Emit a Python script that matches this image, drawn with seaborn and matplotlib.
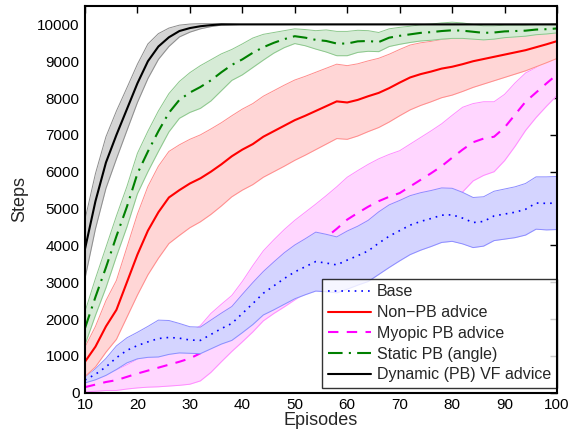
import matplotlib
matplotlib.use('Agg')
import matplotlib.pyplot as plt
import seaborn as sns

episodes = [10, 12, 14, 16, 18, 20, 22, 24, 26, 28,
            30, 32, 34, 36, 38, 40, 42, 44, 46, 48,
            50, 52, 54, 56, 58, 60, 62, 64, 66, 68,
            70, 72, 74, 76, 78, 80, 82, 84, 86, 88,
            90, 92, 94, 96, 98, 100]

base_mean = [345, 500, 700, 950, 1150, 1280, 1380, 1470, 1500, 1480,
             1430, 1420, 1580, 1740, 1880, 2150, 2420, 2700, 2900, 3100,
             3280, 3420, 3560, 3520, 3470, 3600, 3720, 3850, 4060, 4250,
             4400, 4550, 4650, 4730, 4820, 4830, 4740, 4620, 4650, 4800,
             4850, 4900, 4980, 5150, 5140, 5150]
base_err = [80, 150, 230, 320, 340, 360, 420, 500, 460, 400,
            360, 360, 390, 420, 460, 520, 570, 590, 650, 700,
            730, 760, 800, 780, 760, 790, 800, 830, 850, 850,
            820, 800, 780, 760, 740, 720, 700, 680, 670, 670,
            680, 690, 700, 710, 720, 720]

nonpb_mean = [840, 1250, 1800, 2250, 3000, 3750, 4400, 4900, 5300, 5500,
              5680, 5820, 6000, 6200, 6420, 6600, 6750, 6950, 7100, 7250,
              7400, 7520, 7650, 7780, 7910, 7880, 7950, 8050, 8140, 8270,
              8420, 8560, 8650, 8720, 8800, 8850, 8920, 9000, 9060, 9120,
              9180, 9240, 9300, 9380, 9460, 9546]
nonpb_err = [400, 550, 700, 800, 950, 1100, 1200, 1250, 1250, 1230,
             1200, 1180, 1160, 1130, 1100, 1100, 1100, 1100, 1100, 1100,
             1090, 1070, 1050, 1030, 1010, 1000, 980, 960, 940, 920,
             900, 880, 850, 820, 790, 770, 740, 710, 680, 650,
             620, 590, 560, 530, 500, 470]

myopic_mean = [150, 220, 290, 340, 430, 520, 600, 680, 760, 840,
               930, 1070, 1350, 1620, 1880, 2200, 2550, 2900, 3150, 3380,
               3600, 3800, 4000, 4220, 4450, 4700, 4880, 5050, 5200, 5320,
               5420, 5600, 5780, 5960, 6150, 6380, 6600, 6800, 6900, 6950,
               7200, 7550, 7900, 8150, 8400, 8640]
myopic_err = [130, 180, 230, 280, 330, 390, 450, 520, 580, 640,
              700, 750, 800, 780, 760, 820, 900, 950, 1000, 1050,
              1080, 1100, 1120, 1130, 1140, 1150, 1150, 1150, 1150, 1150,
              1150, 1150, 1150, 1150, 1150, 1150, 1150, 1050, 1000, 950,
              900, 860, 780, 680, 620, 570]

static_mean = [1750, 2600, 3400, 4250, 5050, 5950, 6550, 7100, 7600, 7950,
               8150, 8300, 8480, 8700, 8900, 9050, 9230, 9380, 9500, 9600,
               9680, 9640, 9580, 9550, 9480, 9480, 9540, 9550, 9520, 9640,
               9690, 9730, 9770, 9790, 9820, 9840, 9830, 9800, 9770, 9780,
               9810, 9820, 9830, 9860, 9870, 9890]
static_err = [450, 500, 550, 550, 550, 550, 550, 550, 520, 500,
              540, 580, 560, 500, 420, 420, 400, 350, 280, 230,
              200, 220, 250, 300, 330, 330, 300, 280, 260, 240,
              230, 220, 220, 220, 220, 220, 210, 200, 190, 180,
              170, 160, 150, 140, 130, 120]

dynamic_mean = [3900, 5200, 6250, 7000, 7700, 8400, 9000, 9400, 9650, 9820,
                9900, 9950, 9980, 10000, 10000, 10000, 10000, 10000, 10000, 10000,
                10000, 10000, 10000, 10000, 10000, 10000, 10000, 10000, 10000, 10000,
                10000, 10000, 10000, 10000, 10000, 10000, 10000, 10000, 10000, 10000,
                10000, 10000, 10000, 10000, 10000, 10000]
dynamic_err = [800, 750, 700, 650, 580, 520, 470, 350, 250, 160,
               110, 70, 40, 20, 10, 0, 0, 0, 0, 0,
               0, 0, 0, 0, 0, 0, 0, 0, 0, 0,
               0, 0, 0, 0, 0, 0, 0, 0, 0, 0,
               0, 0, 0, 0, 0, 0]

labels = ['Base', 'Non\u2212PB advice', 'Myopic PB advice',
          'Static PB (angle)', 'Dynamic (PB) VF advice']

sns.set_style('white')
plt.rcParams['font.family'] = ['Liberation Sans', 'DejaVu Sans']

fig = plt.figure(figsize=(5.84, 4.34), dpi=100)
ax = fig.add_axes([0.1455, 0.0952, 0.8083, 0.891])

# (mean, err, line colour, fill colour, edge colour, linestyle, linewidth, zorder)
series = [
    (myopic_mean, myopic_err, '#ff00ff', '#ffd6ff', '#ff8cff', (0, (5, 4)), 1.5, 1),
    (base_mean, base_err, '#0000ff', '#d4d4ff', '#8c8cff', (0, (1, 3)), 1.2, 2),
    (nonpb_mean, nonpb_err, '#ff0000', '#ffd6d6', '#ff8c8c', '-', 1.5, 3),
    (static_mean, static_err, '#008000', '#d6ebd6', '#8cc78c', (0, (7, 3, 1, 3)), 1.5, 4),
    (dynamic_mean, dynamic_err, '#000000', '#d4d4d4', '#8c8c8c', '-', 1.5, 5),
]
handles = {}
for mean, err, col, fcol, ecol, ls, lw, z in series:
    lo = [m - e for m, e in zip(mean, err)]
    hi = [m + e for m, e in zip(mean, err)]
    ax.fill_between(episodes, lo, hi, color=fcol, linewidth=0, zorder=z)
    ax.plot(episodes, lo, color=ecol, linewidth=0.7, zorder=z + 0.05)
    ax.plot(episodes, hi, color=ecol, linewidth=0.7, zorder=z + 0.05)
    sns.lineplot(x=episodes, y=mean, ax=ax, color=col, linestyle=ls,
                 linewidth=lw, zorder=z + 0.1)
    handles[col] = ax.lines[-1]

order = ['#0000ff', '#ff0000', '#ff00ff', '#008000', '#000000']
leg = ax.legend([handles[c] for c in order], labels, loc='lower right',
                bbox_to_anchor=(1.0, 0.012), borderaxespad=0, fontsize=11.5,
                frameon=True, fancybox=False, handlelength=2.7,
                handletextpad=0.4, labelspacing=0.36, borderpad=0.35)
leg.get_frame().set_edgecolor('black')
leg.get_frame().set_linewidth(1.0)
leg.set_zorder(10)

ax.set_xlim(10, 100)
ax.set_ylim(0, 10500)
ax.set_xticks([10, 20, 30, 40, 50, 60, 70, 80, 90, 100])
ax.set_yticks([0, 1000, 2000, 3000, 4000, 5000, 6000, 7000, 8000, 9000, 10000])
ax.tick_params(direction='in', length=5, width=1, top=True, right=True,
               labelsize=11, pad=4, colors='black')
for s in ax.spines.values():
    s.set_linewidth(1.5)
    s.set_color('black')
    s.set_zorder(20)
ax.set_xlabel('Episodes', fontsize=13, labelpad=0)
ax.set_ylabel('Steps', fontsize=13, labelpad=6)

plt.savefig('out.png', dpi=100)
